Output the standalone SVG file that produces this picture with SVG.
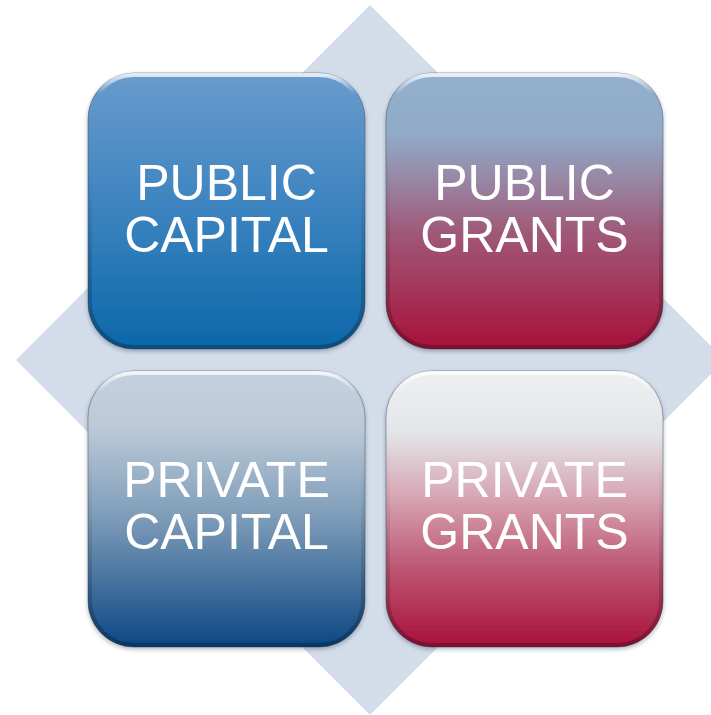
<svg xmlns="http://www.w3.org/2000/svg" width="711" height="715" viewBox="0 0 711 715">
  <defs>
    <linearGradient id="gTL" x1="0" y1="0" x2="0" y2="1">
      <stop offset="0" stop-color="#6a9bcc"/>
      <stop offset="0.5" stop-color="#3b83bf"/>
      <stop offset="1" stop-color="#0c67a9"/>
    </linearGradient>
    <linearGradient id="gTR" x1="0" y1="0" x2="0" y2="1">
      <stop offset="0" stop-color="#93b0cc"/>
      <stop offset="0.22" stop-color="#90aac8"/>
      <stop offset="0.4" stop-color="#9884a2"/>
      <stop offset="0.58" stop-color="#a05878"/>
      <stop offset="0.8" stop-color="#a43358"/>
      <stop offset="1" stop-color="#a8113b"/>
    </linearGradient>
    <linearGradient id="gBL" x1="0" y1="0" x2="0" y2="1">
      <stop offset="0" stop-color="#c4d1dd"/>
      <stop offset="0.2" stop-color="#bccad8"/>
      <stop offset="0.5" stop-color="#84a1bc"/>
      <stop offset="0.8" stop-color="#3d6b9a"/>
      <stop offset="1" stop-color="#0c4784"/>
    </linearGradient>
    <linearGradient id="gBR" x1="0" y1="0" x2="0" y2="1">
      <stop offset="0" stop-color="#eef0f1"/>
      <stop offset="0.22" stop-color="#e3e6e9"/>
      <stop offset="0.45" stop-color="#d7a7b5"/>
      <stop offset="0.72" stop-color="#bd5472"/>
      <stop offset="1" stop-color="#a8113b"/>
    </linearGradient>
    <!-- glossy top rim fading into a darker lower edge -->
    <linearGradient id="rim" x1="0" y1="0" x2="0" y2="1">
      <stop offset="0" stop-color="#ffffff" stop-opacity="0.8"/>
      <stop offset="0.07" stop-color="#ffffff" stop-opacity="0"/>
      <stop offset="0.5" stop-color="#000000" stop-opacity="0.06"/>
      <stop offset="1" stop-color="#000000" stop-opacity="0.25"/>
    </linearGradient>
    <filter id="shadow" x="-10%" y="-10%" width="120%" height="125%">
      <feDropShadow dx="0" dy="2" stdDeviation="2" flood-color="#1a2a40" flood-opacity="0.35"/>
    </filter>
  </defs>
  <style>
    .tile { stroke: #3d4a5a; stroke-opacity: 0.45; stroke-width: 1; filter: url(#shadow); }
    .rim { fill: none; stroke: url(#rim); stroke-width: 4; }
    .label { font-family: "Liberation Sans", Arial, sans-serif; font-size: 50px; fill: #ffffff; text-anchor: middle; }
  </style>

  <!-- background diamond -->
  <polygon points="370,5 725,360 370,715 16,360" fill="#d3dde9"/>

  <g id="public-capital">
    <rect class="tile" x="88" y="73" width="277" height="276" rx="46" fill="url(#gTL)"/>
    <rect class="rim" x="90" y="75" width="273" height="272" rx="44"/>
    <text class="label" x="226.5" y="199.5">PUBLIC</text>
    <text class="label" x="226.5" y="251.5">CAPITAL</text>
  </g>

  <g id="public-grants">
    <rect class="tile" x="386" y="73" width="277" height="276" rx="46" fill="url(#gTR)"/>
    <rect class="rim" x="388" y="75" width="273" height="272" rx="44"/>
    <text class="label" x="524.5" y="199.5">PUBLIC</text>
    <text class="label" x="524.5" y="251.5">GRANTS</text>
  </g>

  <g id="private-capital">
    <rect class="tile" x="88" y="371" width="277" height="276" rx="46" fill="url(#gBL)"/>
    <rect class="rim" x="90" y="373" width="273" height="272" rx="44"/>
    <text class="label" x="226.5" y="496.5">PRIVATE</text>
    <text class="label" x="226.5" y="549">CAPITAL</text>
  </g>

  <g id="private-grants">
    <rect class="tile" x="386" y="371" width="277" height="276" rx="46" fill="url(#gBR)"/>
    <rect class="rim" x="388" y="373" width="273" height="272" rx="44"/>
    <text class="label" x="524.5" y="496.5">PRIVATE</text>
    <text class="label" x="524.5" y="549">GRANTS</text>
  </g>

  <g id="connectors"/>
</svg>
